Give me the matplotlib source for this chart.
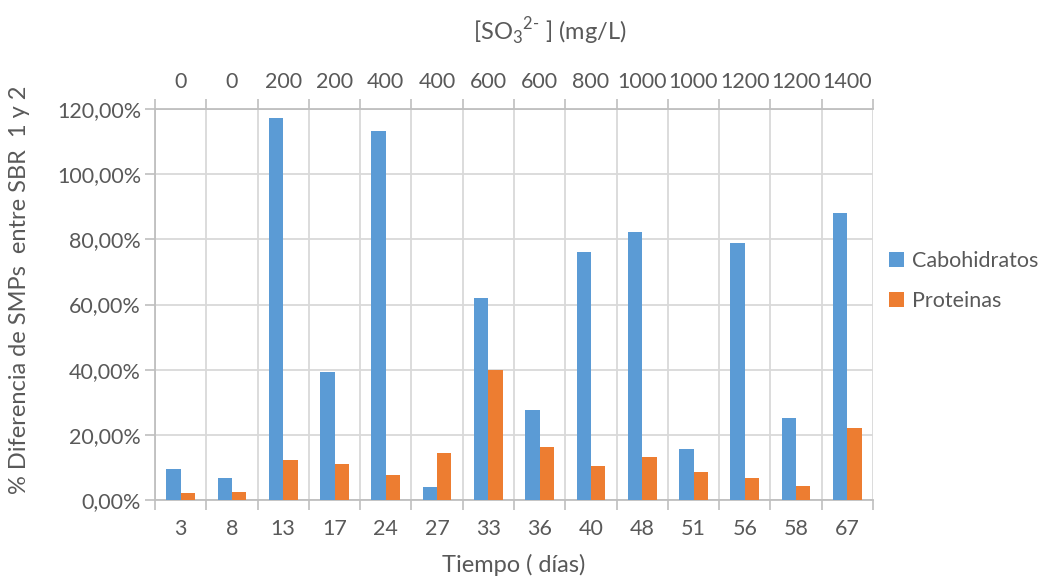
import matplotlib
matplotlib.use("agg")
import matplotlib.pyplot as plt
from matplotlib.ticker import FuncFormatter, FixedLocator
import numpy as np

# data
dias = ["3", "8", "13", "17", "24", "27", "33", "36", "40", "48", "51", "56", "58", "67"]
so3 = ["0", "0", "200", "200", "400", "400", "600", "600", "800", "1000", "1000", "1200", "1200", "1400"]
carbohidratos = [9.5, 6.8, 117.2, 39.2, 113.3, 3.9, 62.0, 27.6, 76.0, 82.1, 15.5, 78.8, 25.1, 88.0]
proteinas = [2.3, 2.5, 12.3, 11.2, 7.6, 14.4, 40.0, 16.3, 10.3, 13.1, 8.6, 6.6, 4.4, 22.0]

plt.rcParams['font.family'] = ['Lato', 'DejaVu Sans']
plt.rcParams['mathtext.fontset'] = 'custom'
plt.rcParams['mathtext.rm'] = 'Lato'
txt = '#595959'
grid_c = '#d9d9d9'
axis_c = '#bfbfbf'
fs_tick = 15.5
fs_lab = 17

fig = plt.figure(figsize=(10.41, 5.82), dpi=100)
ax = fig.add_axes([155/1041, 1-500/582, (873-155)/1041, (500-109)/582])

x = np.arange(len(dias))
w = 0.28
ax.bar(x - w/2, carbohidratos, w, color='#5B9BD5', label='Cabohidratos', zorder=3)
ax.bar(x + w/2, proteinas, w, color='#ED7D31', label='Proteinas', zorder=3)

ax.set_xlim(-0.5, len(dias) - 0.5)
ax.set_ylim(0, 120)
ax.set_yticks(np.arange(0, 121, 20))
ax.yaxis.set_major_formatter(FuncFormatter(lambda v, p: ('%.2f%%' % v).replace('.', ',')))

# category labels at centers, tick marks at boundaries
ax.set_xticks(x)
ax.set_xticklabels(dias)
ax.xaxis.set_minor_locator(FixedLocator(np.arange(-0.5, len(dias), 1)))
ax.tick_params(axis='x', which='major', length=0, pad=14, labelsize=fs_tick, labelcolor=txt)
ax.tick_params(axis='x', which='minor', length=7, color=axis_c, width=1.2)
ax.tick_params(axis='y', length=7, color=axis_c, width=1.2, labelsize=fs_tick, labelcolor=txt, pad=3)

ax.grid(axis='y', color=grid_c, lw=1.3, zorder=0)
ax.grid(axis='x', which='minor', color=grid_c, lw=1.3, zorder=0)
ax.spines['right'].set_visible(False)
for s in ['left', 'bottom', 'top']:
    ax.spines[s].set_color(axis_c)
    ax.spines[s].set_linewidth(1.3)

# top axis with SO3 concentration
ax2 = ax.twiny()
ax2.set_xlim(ax.get_xlim())
ax2.set_xticks(x)
ax2.set_xticklabels(so3)
ax2.xaxis.set_minor_locator(FixedLocator(np.arange(-0.5, len(dias), 1)))
ax2.tick_params(axis='x', which='major', length=0, pad=12, labelsize=fs_tick, labelcolor=txt)
ax2.tick_params(axis='x', which='minor', length=7, color=axis_c, width=1.2)
for s in ['left', 'right', 'bottom', 'top']:
    ax2.spines[s].set_visible(False)

ax.set_xlabel('Tiempo ( días)', fontsize=fs_lab, color=txt)
ax.xaxis.set_label_coords(0.5, -(565 - 500) / 391)
ax.set_ylabel('% Diferencia de SMPs  entre SBR  1 y 2', fontsize=fs_lab, color=txt)
ax.yaxis.set_label_coords(-(155 - 20) / 718, (500 - 290) / 391)
ax.yaxis.label.set_va('center')
ax.xaxis.label.set_va('center')
fig.text(550/1041, 1-32/582, r'[SO$_\mathrm{3}$$^{\mathrm{2}\text{-}}$ ] (mg/L)', fontsize=fs_lab,
         color=txt, ha='center', va='center')

ax.legend(loc='center left', bbox_to_anchor=(0.995, (500 - 281) / 391), frameon=False, fontsize=fs_tick,
          labelcolor=txt, handlelength=0.7, handleheight=0.7, handletextpad=0.4, labelspacing=0.9)

fig.savefig("out.png", dpi=100)
